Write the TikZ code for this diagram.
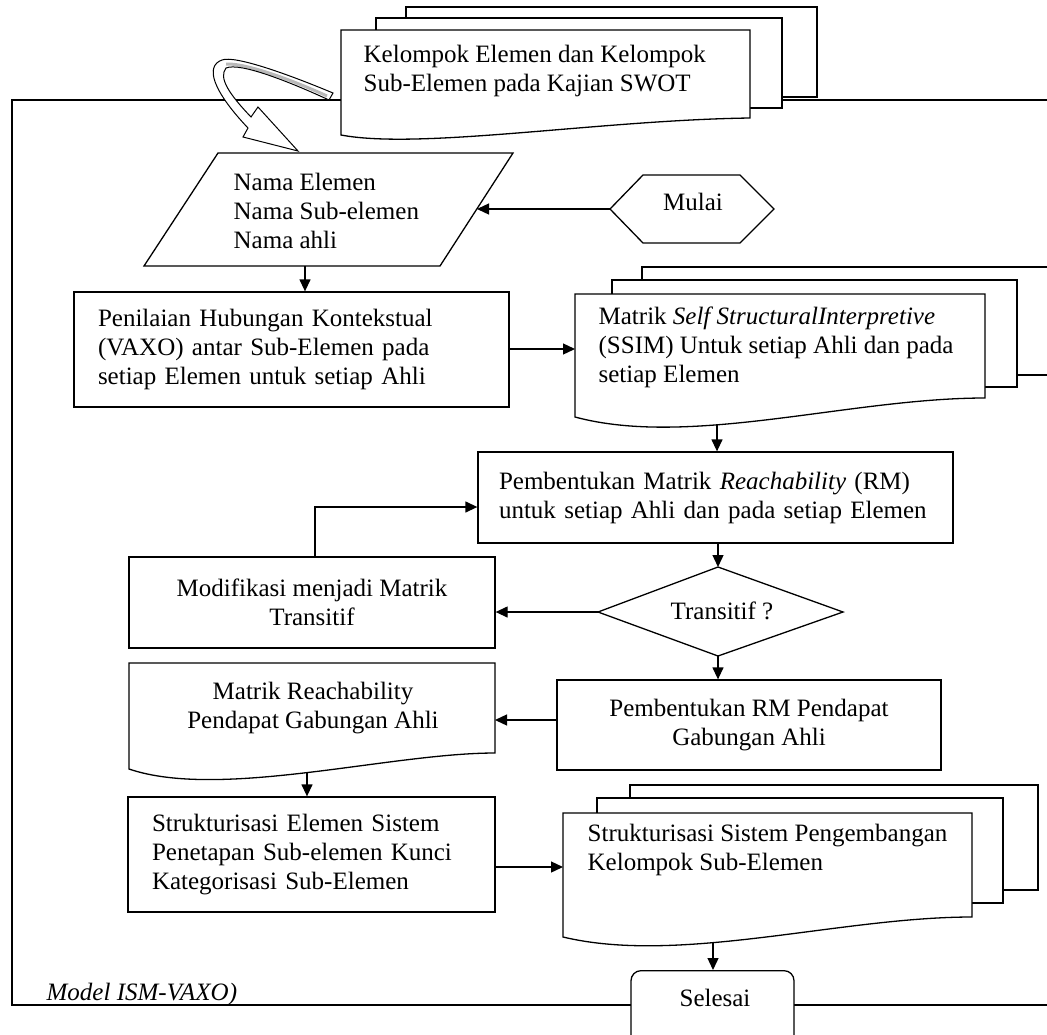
\documentclass[tikz,border=0pt]{standalone}
\usepackage{fontspec}
\setmainfont{Liberation Serif}
\usetikzlibrary{arrows.meta}
\begin{document}
\begin{tikzpicture}[x=1pt,y=-1pt,
  line width=1.3pt, line join=miter,
  arr/.style={-{Triangle[length=12pt,width=11pt]}},
  lbl/.style={font=\fontsize{25}{29}\selectfont, inner sep=0pt},
  pbox/.style={draw, fill=white, rectangle, inner sep=0pt, font=\fontsize{25}{29}\selectfont},
  layer/.style={draw, fill=white},
]
\useasboundingbox (0,0) rectangle (1047,1034);
\clip (0,0) rectangle (1047,1034);
% outer frame
\draw (12,100) -- (12,1005) -- (1070,1005) -- (1070,100) -- cycle;

% top stacked document
\draw[layer] (406,7) rectangle (817,97);
\draw[layer] (376,18) rectangle (782,108);
\draw[layer] (341,30) -- (750,30) -- (750,118) .. controls (600,120) and (420,150) .. (341,135) -- cycle;
\node[lbl, anchor=west, align=left] (kel) at (363,71) {Kelompok Elemen dan Kelompok\\Sub-Elemen pada Kajian SWOT};

% curved block arrow
\fill[white] (333,93) .. controls (290,75) and (235,55) .. (222,60) .. controls (205,66) and (212,90) .. (248,128)
  -- (243,137) -- (298,151) -- (258,107) -- (251,117)
  .. controls (230,95) and (218,78) .. (226,68) .. controls (240,62) and (290,82) .. (329,100) -- cycle;
\draw[gray!55, line width=3pt] (327,96) .. controls (290,79) and (245,63) .. (226,64);
\draw[line width=1pt] (333,93) .. controls (290,75) and (235,55) .. (222,60) .. controls (205,66) and (212,90) .. (248,128)
  -- (243,137) -- (298,151) -- (258,107) -- (251,117)
  .. controls (230,95) and (218,78) .. (226,68) .. controls (240,62) and (290,82) .. (329,100) -- cycle;

% parallelogram
\draw (218,153) -- (513,153) -- (440,266) -- (144,266) -- cycle;
\node[lbl, anchor=west, align=left] (par) at (233,211) {Nama Elemen\\Nama Sub-elemen\\Nama ahli};
\coordinate (parE) at (477,209);
\coordinate (parS) at (305,266);

% Mulai
\draw (610,209) -- (643,175) -- (740,175) -- (774,209) -- (740,243) -- (643,243) -- cycle;
\node[lbl] (mulai) at (693,202) {Mulai};
\coordinate (mulaiW) at (610,209);

% Penilaian
\node[pbox, minimum width=435pt, minimum height=115pt, text width=387pt, align=left] (pen) at (291.5,349.5)
  {Penilaian Hubungan Kontekstual\\(VAXO) antar Sub-Elemen pada\\setiap Elemen untuk setiap Ahli};

% SSIM stacked document
\draw[layer] (642,267) rectangle (1070,375);
\draw[layer] (612,280) rectangle (1017,387);
\draw[layer] (575,294) -- (985,294) -- (985,398) .. controls (850,398) and (690,448) .. (575,417) -- cycle;
\node[lbl, anchor=west, align=left] (ssim) at (598,347)
  {Matrik \textit{Self StructuralInterpretive}\\(SSIM) Untuk setiap Ahli dan pada\\setiap Elemen};
\coordinate (ssimW) at (575,349);
\coordinate (ssimS) at (717,425);

% RM
\node[pbox, minimum width=475pt, minimum height=91pt, text width=433pt, align=left] (rm) at (715.5,497.5)
  {Pembentukan Matrik \textit{Reachability} (RM)\\untuk setiap Ahli dan pada setiap Elemen};

% Modifikasi
\node[pbox, minimum width=366pt, minimum height=91pt, align=center] (mod) at (312,602.5)
  {Modifikasi menjadi Matrik\\Transitif};

% diamond
\draw (718,567) -- (843,612) -- (718,656) -- (598,612) -- cycle;
\node[lbl] (dia) at (722,611) {Transitif ?};
\coordinate (diaN) at (718,567);
\coordinate (diaW) at (598,612);
\coordinate (diaS) at (718,656);

% Pembentukan RM Pendapat
\node[pbox, minimum width=384pt, minimum height=90pt, align=center] (prm) at (749,725)
  {Pembentukan RM Pendapat\\Gabungan Ahli};

% Matrik Reachability document
\draw[layer] (129,663) -- (495,663) -- (495,753) .. controls (390,753) and (220,800) .. (129,769) -- cycle;
\node[lbl, align=center] (mr) at (313,708) {Matrik Reachability\\Pendapat Gabungan Ahli};
\coordinate (mrE) at (495,720);
\coordinate (mrS) at (307,773);

% Strukturisasi Elemen
\node[pbox, minimum width=367pt, minimum height=115pt, text width=319pt, align=left] (sel) at (311.5,854.5)
  {Strukturisasi Elemen Sistem\\Penetapan Sub-elemen Kunci\\Kategorisasi Sub-Elemen};

% bottom stacked document
\draw[layer] (630,785) rectangle (1038,890);
\draw[layer] (597,798) rectangle (1003,903);
\draw[layer] (563,813) -- (972,813) -- (972,917) .. controls (840,917) and (680,965) .. (563,937) -- cycle;
\node[lbl, anchor=west, align=left] (ss) at (587,850)
  {Strukturisasi Sistem Pengembangan\\Kelompok Sub-Elemen};
\coordinate (ssW) at (563,867);
\coordinate (ssS) at (713,943);

% Selesai
\node[draw, fill=white, rounded corners=10pt, minimum width=163pt, minimum height=85pt, anchor=north, inner sep=0pt] (selesai) at (712.5,970) {};
\node[lbl] (seltext) at (715,998) {Selesai};

% caption text
\node[lbl, font=\fontsize{25}{29}\selectfont\itshape, anchor=west] (model) at (46,994) {Model ISM-VAXO)};

% connectors
\draw[arr] (mulaiW) -- (parE);
\draw[arr] (parS) -- (parS |- pen.north);
\draw[arr] (pen.east |- ssimW) -- (ssimW);
\draw[arr] (ssimS) -- (ssimS |- rm.north);
\draw[arr] (rm.south -| diaN) -- (diaN);
\draw[arr] (diaW) -- (diaW -| mod.east);
\draw[arr] ([xshift=3pt]mod.north) |- ([yshift=-9.5pt]rm.west);
\draw[arr] (diaS) -- (diaS |- prm.north);
\draw[arr] (prm.west |- mrE) -- (mrE);
\draw[arr] (mrS) -- (mrS |- sel.north);
\draw[arr] (sel.east |- ssW) -- (ssW);
\draw[arr] (ssS) -- (ssS |- selesai.north);
\end{tikzpicture}
\end{document}
